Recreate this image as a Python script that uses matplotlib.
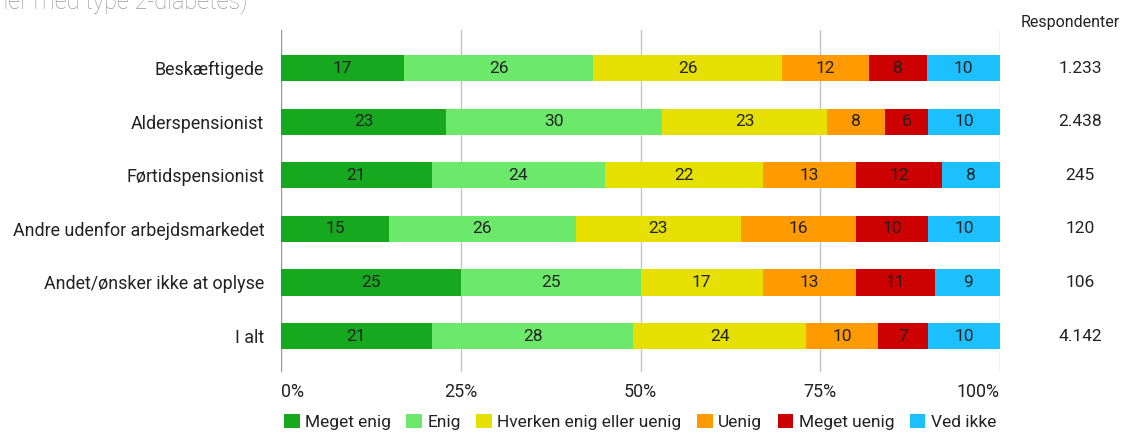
import matplotlib
matplotlib.use("Agg")
import matplotlib.pyplot as plt
import matplotlib.transforms as mtransforms
import numpy as np

plt.rcParams['font.family'] = ['Roboto', 'DejaVu Sans']

categories = ["Beskæftigede", "Alderspensionist", "Førtidspensionist",
              "Andre udenfor arbejdsmarkedet", "Andet/ønsker ikke at oplyse", "I alt"]
series_names = ["Meget enig", "Enig", "Hverken enig eller uenig", "Uenig", "Meget uenig", "Ved ikke"]
meget_enig = [17, 23, 21, 15, 25, 21]
enig = [26, 30, 24, 26, 25, 28]
hverken = [26, 23, 22, 23, 17, 24]
uenig = [12, 8, 13, 16, 13, 10]
meget_uenig = [8, 6, 12, 10, 11, 7]
ved_ikke = [10, 10, 8, 10, 9, 10]
respondenter = ["1.233", "2.438", "245", "120", "106", "4.142"]
xticks = [0, 25, 50, 75, 100]
xtick_labels = ["0%", "25%", "50%", "75%", "100%"]
colors = ["#16a91f", "#6ce86a", "#e6e000", "#ff9a00", "#cc0000", "#1cc0ff"]

W, H = 1136, 432
fig = plt.figure(figsize=(W / 100, H / 100), dpi=100)
ax_left, ax_right, ax_top, ax_bot = 281, 1000, 30, 372
ax = fig.add_axes([ax_left / W, 1 - ax_bot / H, (ax_right - ax_left) / W, (ax_bot - ax_top) / H])

data = np.array([meget_enig, enig, hverken, uenig, meget_uenig, ved_ikke], dtype=float)
totals = data.sum(axis=0)
shares = data / totals * 100
y = np.arange(len(categories))
left = np.zeros(len(categories))
for i, name in enumerate(series_names):
    ax.barh(y, shares[i], left=left, height=0.49, color=colors[i], label=name, zorder=2)
    for j in range(len(categories)):
        ax.text(left[j] + shares[i][j] / 2, y[j], str(int(data[i][j])), ha='center', va='center',
                fontsize=12.5, color='#222222', zorder=3)
    left += shares[i]

ax.set_xlim(0, 100)
ax.set_ylim(5.67, -0.71)
for s in ax.spines.values():
    s.set_visible(False)
for xv in xticks:
    ax.axvline(xv, color='#999999' if xv == 0 else '#c4c4c4', lw=1, zorder=1)
ax.set_yticks(y)
ax.set_yticklabels(categories, fontsize=12.9, color='#222222')
ax.tick_params(axis='y', length=0, pad=12)
ax.set_xticks(xticks)
ax.set_xticklabels(xtick_labels, fontsize=12.9, color='#222222')
ax.tick_params(axis='x', length=0, pad=8)
tl = ax.get_xticklabels()
tl[0].set_ha('left')
tl[-1].set_ha('right')

# Respondenter column
fig.text(1070 / W, 1 - 22 / H, "Respondenter", ha='center', va='center', fontsize=11.5, color='#222222')
trans = mtransforms.blended_transform_factory(fig.transFigure, ax.transData)
for j, r in enumerate(respondenter):
    ax.text(1080 / W, y[j], r, ha='center', va='center', fontsize=12.5, color='#222222',
            transform=trans, clip_on=False)

# partial title at top-left (cut off in the reference)
fig.text(247 / W, 1 - 8 / H, "personer med type 2-diabetes)", ha='right', va='baseline',
         fontsize=17, color='#999999', fontweight='light')

handles, labels = ax.get_legend_handles_labels()
leg = fig.legend(handles, labels, ncol=6, loc='center', bbox_to_anchor=(640 / W, 1 - 422 / H),
                 frameon=False, fontsize=12.5, handlelength=0.9, handleheight=0.9,
                 handletextpad=0.3, columnspacing=0.9, borderaxespad=0)
for t in leg.get_texts():
    t.set_color('#222222')

fig.savefig("out.png", dpi=100)
